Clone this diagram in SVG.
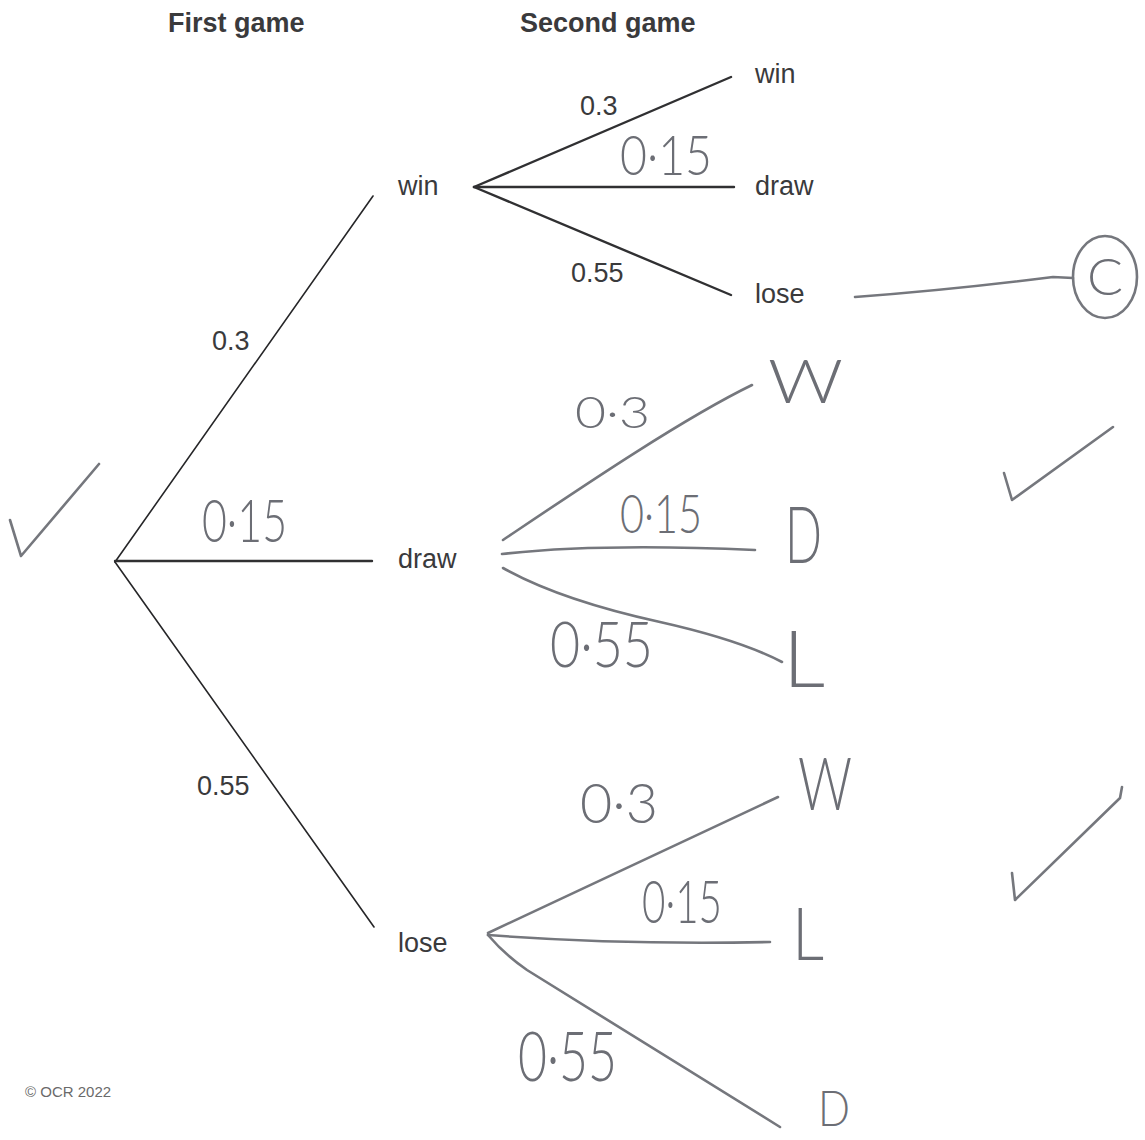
<svg xmlns="http://www.w3.org/2000/svg" width="1145" height="1140" viewBox="0 0 1145 1140">
<style>
.bg{fill:#ffffff}
.pr{font-family:"Liberation Sans",Arial,sans-serif;font-size:27px;fill:#3a3a3c}
.hd{font-family:"Liberation Sans",Arial,sans-serif;font-size:27px;font-weight:bold;fill:#3a3a3c}
.cp{font-family:"Liberation Sans",Arial,sans-serif;font-size:15px;fill:#6a6a6a}
.hw{font-family:Lato,"Open Sans",sans-serif;font-weight:300;fill:#6c6e75}
.ln{stroke:#262628;stroke-width:1.6;fill:none;stroke-linecap:round}
.ln2{stroke:#303032;stroke-width:2.4;fill:none;stroke-linecap:round}
.pen{stroke:#75777d;stroke-width:2.6;fill:none;stroke-linecap:round;stroke-linejoin:round}
</style>
<rect class="bg" x="0" y="0" width="1145" height="1140"/>

<g id="headers">
<text class="hd" x="168" y="32">First game</text>
<text class="hd" x="520" y="32">Second game</text>
</g>

<g id="connectors">
<line class="ln" x1="115" y1="562" x2="373" y2="196"/>
<line class="ln2" x1="115" y1="561" x2="372" y2="561"/>
<line class="ln" x1="115" y1="562" x2="374" y2="927"/>
<line class="ln2" x1="474" y1="187" x2="731" y2="77"/>
<line class="ln2" x1="474" y1="187" x2="734" y2="187"/>
<line class="ln2" x1="474" y1="187" x2="731" y2="295"/>
<path class="pen" d="M503,540 C570,495 680,420 752,385"/>
<path class="pen" d="M502,554 Q600,543 755,550"/>
<path class="pen" d="M503,568 Q560,600 660,622 Q740,640 782,662"/>
<path class="pen" d="M488,933 L778,797"/>
<path class="pen" d="M488,935 Q620,945 770,942"/>
<path class="pen" d="M488,935 Q505,955 527,970 L780,1127"/>
<path class="pen" d="M855,297 Q950,290 1053,277 L1073,278"/>
</g>

<g id="edge-labels">
<text class="pr" x="212" y="350">0.3</text>
<text class="pr" x="197" y="795">0.55</text>
<text class="pr" x="580" y="115">0.3</text>
<text class="pr" x="571" y="282">0.55</text>
<text class="hw" x="202" y="542" font-size="60" textLength="85" lengthAdjust="spacingAndGlyphs">0·15</text>
<text class="hw" x="620" y="175" font-size="56" textLength="92" lengthAdjust="spacingAndGlyphs">0·15</text>
<text class="hw" x="575" y="428" font-size="44" textLength="75" lengthAdjust="spacingAndGlyphs">0·3</text>
<text class="hw" x="620" y="533" font-size="54" textLength="82" lengthAdjust="spacingAndGlyphs">0·15</text>
<text class="hw" x="550" y="667" font-size="64" textLength="103" lengthAdjust="spacingAndGlyphs">0·55</text>
<text class="hw" x="580" y="823" font-size="56" textLength="78" lengthAdjust="spacingAndGlyphs">0·3</text>
<text class="hw" x="642" y="923" font-size="60" textLength="80" lengthAdjust="spacingAndGlyphs">0·15</text>
<text class="hw" x="518" y="1081" font-size="68" textLength="99" lengthAdjust="spacingAndGlyphs">0·55</text>
</g>

<g id="root">
<path class="pen" d="M10,520 L21,556 L99,464"/>
</g>

<g id="node-win">
<text class="pr" x="398" y="195">win</text>
</g>
<g id="node-draw">
<text class="pr" x="398" y="568">draw</text>
</g>
<g id="node-lose">
<text class="pr" x="398" y="952">lose</text>
</g>

<g id="node-win-win"><text class="pr" x="755" y="83">win</text></g>
<g id="node-win-draw"><text class="pr" x="755" y="195">draw</text></g>
<g id="node-win-lose"><text class="pr" x="755" y="303">lose</text></g>

<g id="node-draw-w"><text class="hw" x="768" y="403" font-size="62" textLength="75" lengthAdjust="spacingAndGlyphs">W</text></g>
<g id="node-draw-d"><text class="hw" x="785" y="563" font-size="78" textLength="37" lengthAdjust="spacingAndGlyphs">D</text></g>
<g id="node-draw-l"><text class="hw" x="783" y="687" font-size="79" textLength="42" lengthAdjust="spacingAndGlyphs">L</text></g>

<g id="node-lose-w"><text class="hw" x="798" y="810" font-size="72" textLength="54" lengthAdjust="spacingAndGlyphs">W</text></g>
<g id="node-lose-l"><text class="hw" x="792" y="960" font-size="72" textLength="32" lengthAdjust="spacingAndGlyphs">L</text></g>
<g id="node-lose-d"><text class="hw" x="818" y="1126" font-size="50" textLength="32" lengthAdjust="spacingAndGlyphs">D</text></g>

<g id="mark-c">
<ellipse class="pen" cx="1105" cy="277" rx="32" ry="41"/>
<text class="hw" x="1087" y="295" font-size="52" textLength="36" lengthAdjust="spacingAndGlyphs">C</text>
</g>

<g id="ticks">
<path class="pen" d="M1004,473 L1012,500 L1113,427"/>
<path class="pen" d="M1012,873 L1015,900 L1120,798 L1122,787"/>
</g>

<g id="footer">
<text class="cp" x="25" y="1097">© OCR 2022</text>
</g>
</svg>
